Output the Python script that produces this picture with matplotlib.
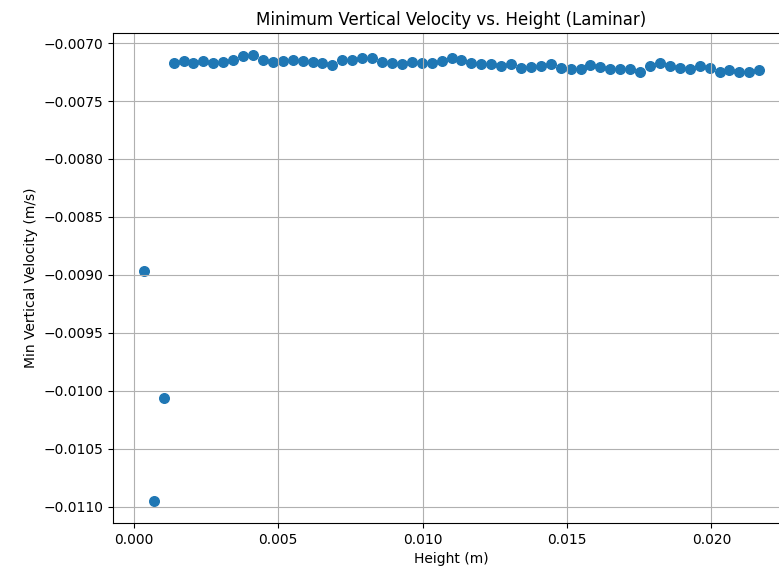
import matplotlib
matplotlib.use("Agg")
import matplotlib.pyplot as plt

# sample heights (m) and the minimum vertical velocity found at each (m/s)
heights = [
    0.000344, 0.000688, 0.001031, 0.001375, 0.001719, 0.002063, 0.002406,
    0.002750, 0.003094, 0.003438, 0.003781, 0.004125, 0.004469, 0.004813,
    0.005156, 0.005500, 0.005844, 0.006188, 0.006531, 0.006875, 0.007219,
    0.007563, 0.007906, 0.008250, 0.008594, 0.008938, 0.009281, 0.009625,
    0.009969, 0.010313, 0.010656, 0.011000, 0.011344, 0.011688, 0.012031,
    0.012375, 0.012719, 0.013063, 0.013406, 0.013750, 0.014094, 0.014438,
    0.014781, 0.015125, 0.015469, 0.015813, 0.016156, 0.016500, 0.016844,
    0.017188, 0.017531, 0.017875, 0.018219, 0.018563, 0.018906, 0.019250,
    0.019594, 0.019938, 0.020281, 0.020625, 0.020969, 0.021313, 0.021656,
]
min_vel = [
    -0.008970, -0.010950, -0.010060,
    -0.007173, -0.007158, -0.007173, -0.007155, -0.007173, -0.007161,
    -0.007147, -0.007115, -0.007104, -0.007147, -0.007161, -0.007158,
    -0.007144, -0.007158, -0.007167, -0.007170, -0.007190, -0.007144,
    -0.007144, -0.007132, -0.007132, -0.007167, -0.007173, -0.007184,
    -0.007167, -0.007173, -0.007173, -0.007158, -0.007130, -0.007144,
    -0.007170, -0.007184, -0.007184, -0.007201, -0.007178, -0.007216,
    -0.007204, -0.007201, -0.007176, -0.007219, -0.007225, -0.007225,
    -0.007190, -0.007204, -0.007225, -0.007225, -0.007225, -0.007248,
    -0.007201, -0.007173, -0.007196, -0.007213, -0.007225, -0.007201,
    -0.007216, -0.007248, -0.007230, -0.007248, -0.007248, -0.007233,
]

fig = plt.figure(figsize=(7.79, 5.80), dpi=100)
ax = fig.add_axes([0.1451, 0.0983, 0.869, 0.845])
ax.scatter(heights, min_vel, s=48)
ax.set_title("Minimum Vertical Velocity vs. Height (Laminar)")
ax.set_xlabel("Height (m)")
ax.set_ylabel("Min Vertical Velocity (m/s)")
ax.grid(True)

fig.savefig("out.png", dpi=100)
